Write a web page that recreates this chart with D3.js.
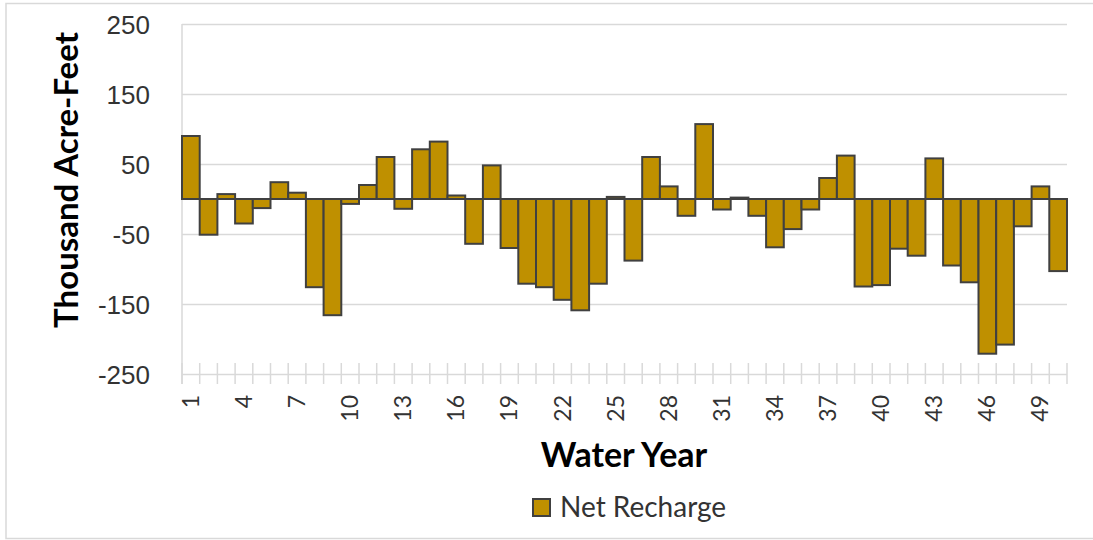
<!DOCTYPE html>
<html>
<head>
<meta charset="utf-8">
<script src="https://cdn.jsdelivr.net/npm/d3@7"></script>
<style>
  body { margin: 0; background: #fff; }
  svg { font-family: Lato, "Open Sans", sans-serif; }
  .grid line { stroke: #d9d9d9; stroke-width: 1.5; }
  .grid path { display: none; }
  .ytick text { fill: #333; font-size: 26px; }
</style>
</head>
<body>
<div id="chart"></div>
<script>
// Net recharge by water year (thousand acre-feet)
var years = d3.range(1, 51);
var netRecharge = [
  90, -51, 7, -35, -13, 24, 9, -126, -166, -7,
  20, 60, -14, 71, 82, 5, -64, 48, -70, -121,
  -126, -144, -159, -121, 3, -88, 60, 18, -24, 107,
  -15, 2, -24, -69, -43, -15, 30, 62, -125, -123,
  -71, -81, 58, -95, -119, -221, -208, -39, 18, -103
];
var yTicks = [250, 150, 50, -50, -150, -250];
var xLabelYears = years.filter(d => (d - 1) % 3 === 0);

var svgWidth = 1093;
var svgHeight = 540;

var plot = { left: 182, right: 1067, top: 24, bottom: 374 };

var svg = d3.select("#chart")
  .append("svg")
  .attr("width", svgWidth)
  .attr("height", svgHeight);

// outer chart border
svg.append("rect")
  .attr("x", 6)
  .attr("y", 3.5)
  .attr("width", svgWidth + 10)
  .attr("height", 535)
  .attr("fill", "none")
  .attr("stroke", "#d9d9d9")
  .attr("stroke-width", 1.5);

var xScale = d3.scaleBand()
  .domain(years)
  .range([plot.left, plot.right])
  .padding(0);

var yScale = d3.scaleLinear()
  .domain([-250, 250])
  .range([plot.bottom, plot.top]);

// horizontal gridlines + y tick labels (plain hyphen for negatives)
var yAxis = d3.axisLeft(yScale)
  .tickValues(yTicks)
  .tickSize(-(plot.right - plot.left))
  .tickPadding(32)
  .tickFormat(d => String(d));

var yG = svg.append("g")
  .attr("class", "grid ytick")
  .attr("transform", `translate(${plot.left}, 0)`)
  .call(yAxis);
yG.selectAll("text").attr("dy", "0.36em");

// vertical axis line
svg.append("line")
  .attr("x1", plot.left).attr("x2", plot.left)
  .attr("y1", plot.top).attr("y2", plot.bottom + 10)
  .attr("stroke", "#d9d9d9")
  .attr("stroke-width", 1.5);

// category tick marks at band edges
var edges = years.map(d => xScale(d)).concat([plot.right]);
svg.selectAll(".xtick")
  .data(edges)
  .enter()
  .append("line")
  .attr("class", "xtick")
  .attr("x1", d => d).attr("x2", d => d)
  .attr("y1", plot.bottom - 11)
  .attr("y2", plot.bottom + 10)
  .attr("stroke", "#d9d9d9")
  .attr("stroke-width", 1.5);

// bars
svg.selectAll(".bar")
  .data(netRecharge)
  .enter()
  .append("rect")
  .attr("class", "bar")
  .attr("x", (d, i) => xScale(years[i]))
  .attr("width", xScale.bandwidth())
  .attr("y", d => yScale(Math.max(0, d)))
  .attr("height", d => Math.abs(yScale(d) - yScale(0)))
  .attr("fill", "#bf9000")
  .attr("stroke", "#404040")
  .attr("stroke-width", 2);

// x tick labels (rotated)
svg.selectAll(".xlabel")
  .data(xLabelYears)
  .enter()
  .append("text")
  .attr("class", "xlabel")
  .attr("transform", d => `translate(${xScale(d) + xScale.bandwidth() / 2 + 8}, ${plot.bottom + 21}) rotate(-90)`)
  .attr("text-anchor", "end")
  .attr("fill", "#333")
  .style("font-size", "23px")
  .text(d => d);

// axis titles
svg.append("text")
  .attr("x", 624)
  .attr("y", 467)
  .attr("text-anchor", "middle")
  .attr("fill", "#000")
  .style("font-size", "34px")
  .style("font-weight", "bold")
  .text("Water Year");

svg.append("text")
  .attr("transform", "translate(78, 180) rotate(-90)")
  .attr("text-anchor", "middle")
  .attr("fill", "#000")
  .style("font-size", "33px")
  .style("font-weight", "bold")
  .text("Thousand Acre-Feet");

// legend
svg.append("rect")
  .attr("x", 533).attr("y", 499)
  .attr("width", 17).attr("height", 17)
  .attr("fill", "#bf9000")
  .attr("stroke", "#404040")
  .attr("stroke-width", 2);

svg.append("text")
  .attr("x", 560)
  .attr("y", 517)
  .attr("fill", "#333")
  .style("font-size", "28px")
  .text("Net Recharge");
</script>
</body>
</html>
